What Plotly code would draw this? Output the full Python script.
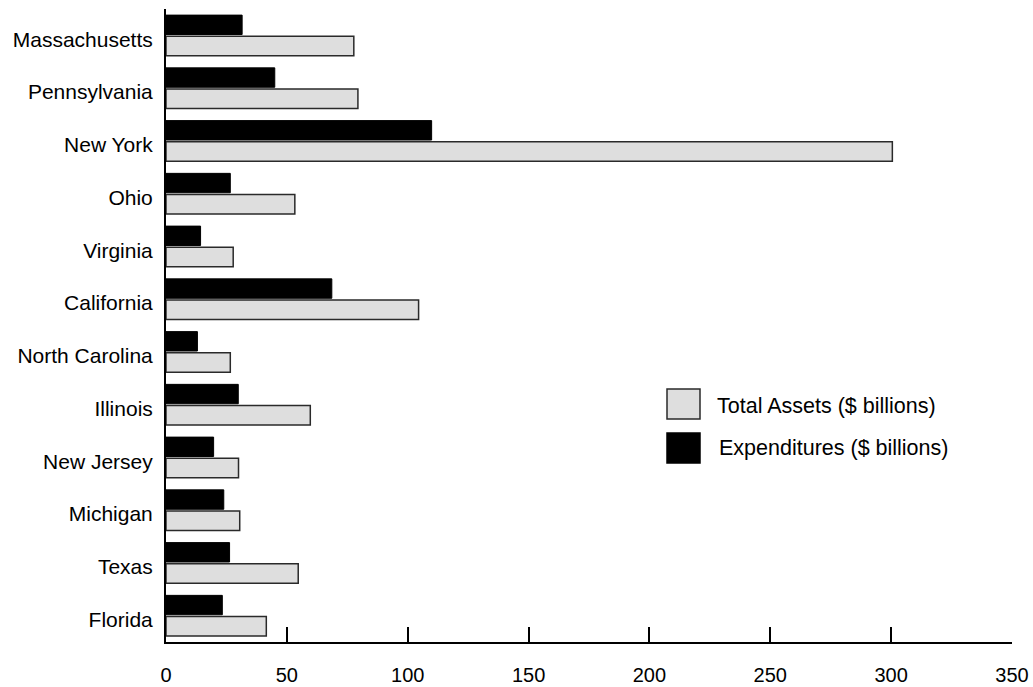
import plotly.graph_objects as go

states = ["Massachusetts", "Pennsylvania", "New York", "Ohio", "Virginia", "California",
          "North Carolina", "Illinois", "New Jersey", "Michigan", "Texas", "Florida"]
total_assets = [77.7, 79.4, 300.5, 53.3, 27.8, 104.5, 26.6, 59.7, 30.0, 30.5, 54.7, 41.5]
expenditures = [31.5, 45.0, 109.9, 26.6, 14.3, 68.6, 13.0, 29.9, 19.7, 23.9, 26.3, 23.3]
x_ticks = [0, 50, 100, 150, 200, 250, 300, 350]
series_names = ["Total Assets ($ billions)", "Expenditures ($ billions)"]

FONT = "Liberation Sans, Arial, sans-serif"

fig = go.Figure()
fig.add_trace(go.Bar(
    y=states, x=expenditures, orientation="h", name=series_names[1],
    marker=dict(color="#000000", line=dict(color="#000000", width=1)),
    showlegend=False,
))
fig.add_trace(go.Bar(
    y=states, x=total_assets, orientation="h", name=series_names[0],
    marker=dict(color="#dedede", line=dict(color="#2a2a2a", width=1.5)),
    showlegend=False,
))

W, H = 1033, 687
ml, mr, mt, mb = 166, 21, 9, 45
pw, ph = W - ml - mr, H - mt - mb
def px2x(px):
    return (px - ml) / pw
def py2y(py):
    return 1 - (py - mt) / ph

# legend drawn as boxes + text in paper space
legend_items = [
    (series_names[0], "#dedede", "#2a2a2a", 389, 419, 406, 717),
    (series_names[1], "#000000", "#000000", 433, 463, 448, 719),
]
for name, fill, line, y0, y1, yc, tx in legend_items:
    fig.add_shape(type="rect", xref="paper", yref="paper",
                  x0=px2x(667), x1=px2x(700), y0=py2y(y1), y1=py2y(y0),
                  fillcolor=fill, line=dict(color=line, width=1.5))
    fig.add_annotation(xref="paper", yref="paper", x=px2x(tx), y=py2y(yc),
                       text=name, showarrow=False, xanchor="left", yanchor="middle",
                       xshift=-2,
                       font=dict(family=FONT, size=21.5, color="#000000"))

fig.update_layout(
    width=W, height=H,
    margin=dict(l=ml, r=mr, t=mt, b=mb, pad=0, autoexpand=False),
    barmode="group", bargap=0.2, bargroupgap=0.08,
    plot_bgcolor="white", paper_bgcolor="white",
    font=dict(family=FONT, size=21, color="#000000"),
    showlegend=False,
)
fig.update_xaxes(
    range=[0, 350], tickvals=x_ticks, ticktext=[str(v) for v in x_ticks],
    showgrid=False, zeroline=False, automargin=False,
    showline=True, linecolor="#000000", linewidth=2,
    ticks="inside", ticklen=15, tickwidth=2, tickcolor="#000000",
    ticklabelstandoff=14,
    tickfont=dict(family=FONT, size=20),
)
fig.update_yaxes(
    categoryorder="array", categoryarray=states, autorange="reversed",
    showgrid=False, zeroline=False, automargin=False,
    showline=True, linecolor="#000000", linewidth=2,
    ticks="", ticklabelstandoff=7, ticklabelshift=-4,
    tickfont=dict(family=FONT, size=21),
)

fig.write_html("out.html", config={"displayModeBar": False},
               post_script="document.body.style.margin='0';")
